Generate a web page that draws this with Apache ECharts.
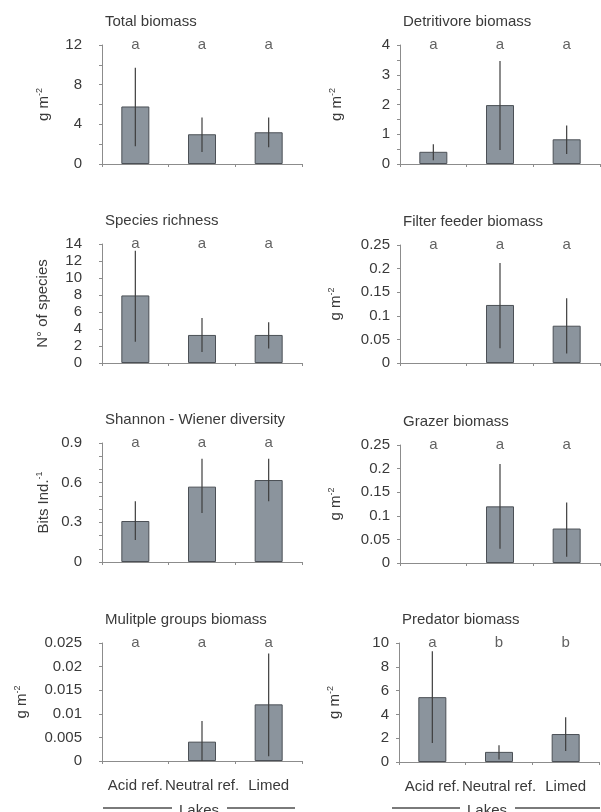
<!DOCTYPE html>
<html>
<head>
<meta charset="utf-8">
<script src="https://cdn.jsdelivr.net/npm/echarts@6/dist/echarts.min.js"></script>
<style>
  html, body { margin: 0; padding: 0; background: #fff; }
  #chart { width: 601px; height: 812px; }
</style>
</head>
<body>
<div id="chart"></div>
<script>
// categories
const lakes = ['Acid ref.', 'Neutral ref.', 'Limed'];

// values: mean, lower / upper end of error bar
const totalMean = [5.8, 3.0, 3.2];
const totalLow = [1.8, 1.2, 1.7];
const totalHigh = [9.7, 4.7, 4.7];

const detritMean = [0.41, 1.98, 0.83];
const detritLow = [0.13, 0.47, 0.34];
const detritHigh = [0.66, 3.46, 1.29];

const richMean = [7.95, 3.3, 3.3];
const richLow = [2.5, 1.3, 1.7];
const richHigh = [13.2, 5.3, 4.8];

const filterMean = [0, 0.123, 0.079];
const filterLow = [0, 0.031, 0.02];
const filterHigh = [0, 0.212, 0.137];

const shannonMean = [0.31, 0.57, 0.62];
const shannonLow = [0.166, 0.37, 0.46];
const shannonHigh = [0.46, 0.78, 0.78];

const grazerMean = [0, 0.12, 0.073];
const grazerLow = [0, 0.03, 0.013];
const grazerHigh = [0, 0.21, 0.128];

const multiMean = [0, 0.0041, 0.012];
const multiLow = [0, 0, 0.001];
const multiHigh = [0, 0.0085, 0.0228];

const predMean = [5.45, 0.85, 2.35];
const predLow = [1.6, 0.2, 0.93];
const predHigh = [9.3, 1.4, 3.76];

// significance letters
const lettersAll = ['a', 'a', 'a'];
const lettersPred = ['a', 'b', 'b'];

const FONT = "'Liberation Sans', Arial, sans-serif";
const FS = 15;
const TXT = '#3a3a3a';
const AXIS = '#8c8c8c';

const panels = [
  { title: 'Total biomass', name: 'g m{sup|-2}', gap: 50, mean: totalMean, low: totalLow, high: totalHigh, letters: lettersAll, max: 12, interval: 4, minor: 2, left: 102, top: 45, bottom: 164, lblMargin: 20 },
  { title: 'Detritivore biomass', name: 'g m{sup|-2}', gap: 55, mean: detritMean, low: detritLow, high: detritHigh, letters: lettersAll, max: 4, interval: 1, minor: 2, left: 400, top: 45, bottom: 164, lblMargin: 10 },
  { title: 'Species richness', name: 'N° of species', gap: 52, mean: richMean, low: richLow, high: richHigh, letters: lettersAll, max: 14, interval: 2, minor: 0, left: 102, top: 244, bottom: 363, lblMargin: 20 },
  { title: 'Filter feeder biomass', name: 'g m{sup|-2}', gap: 56, mean: filterMean, low: filterLow, high: filterHigh, letters: lettersAll, max: 0.25, interval: 0.05, minor: 0, left: 400, top: 245, bottom: 363, lblMargin: 10 },
  { title: 'Shannon - Wiener diversity', name: 'Bits Ind.{sup|-1}', gap: 50, mean: shannonMean, low: shannonLow, high: shannonHigh, letters: lettersAll, max: 0.9, interval: 0.3, minor: 3, left: 102, top: 443, bottom: 562, lblMargin: 20 },
  { title: 'Grazer biomass', name: 'g m{sup|-2}', gap: 56, mean: grazerMean, low: grazerLow, high: grazerHigh, letters: lettersAll, max: 0.25, interval: 0.05, minor: 0, left: 400, top: 445, bottom: 563, lblMargin: 10 },
  { title: 'Mulitple groups biomass', name: 'g m{sup|-2}', gap: 72, mean: multiMean, low: multiLow, high: multiHigh, letters: lettersAll, max: 0.025, interval: 0.005, minor: 0, left: 102, top: 643, bottom: 761, lblMargin: 20, xLabels: true },
  { title: 'Predator biomass', name: 'g m{sup|-2}', gap: 56, mean: predMean, low: predLow, high: predHigh, letters: lettersPred, max: 10, interval: 2, minor: 0, left: 399, top: 643, bottom: 762, lblMargin: 10, xLabels: true }
];

const grid = [], xAxis = [], yAxis = [], series = [], title = [];

panels.forEach((p, i) => {
  grid.push({ left: p.left, top: p.top, width: 200, height: p.bottom - p.top, outerBoundsMode: 'none' });
  title.push({
    text: p.title, left: p.left - 2, top: p.top - 36,
    textStyle: { fontFamily: FONT, fontSize: FS, fontWeight: 'normal', color: TXT }
  });
  xAxis.push({
    type: 'category', gridIndex: i, data: lakes,
    axisLine: { lineStyle: { color: AXIS, width: 1 } },
    axisTick: { show: true, length: 3, lineStyle: { color: AXIS } },
    axisLabel: { show: !!p.xLabels, interval: 0, margin: 17, fontFamily: FONT, fontSize: FS, color: TXT }
  });
  yAxis.push({
    type: 'value', gridIndex: i, min: 0, max: p.max, interval: p.interval,
    name: p.name, nameLocation: 'middle', nameGap: p.gap,
    nameTextStyle: {
      fontFamily: FONT, fontSize: FS, color: TXT,
      rich: { sup: { fontFamily: FONT, fontSize: 9, color: TXT, verticalAlign: 'top', padding: [0, 0, 8, 0] } }
    },
    axisLine: { show: true, lineStyle: { color: AXIS, width: 1 } },
    axisTick: { show: true, length: 3, lineStyle: { color: AXIS } },
    minorTick: { show: p.minor > 0, splitNumber: p.minor || 5, length: 3, lineStyle: { color: AXIS } },
    splitLine: { show: false },
    axisLabel: {
      margin: p.lblMargin, fontFamily: FONT, fontSize: FS, color: TXT,
      showMinLabel: true, showMaxLabel: true, hideOverlap: false
    }
  });
  series.push({
    type: 'bar', xAxisIndex: i, yAxisIndex: i,
    // a zero mean draws no bar (no border line on the axis)
    data: p.mean.map(v => (v === 0 ? '-' : v)),
    barWidth: 28,
    itemStyle: { color: '#8b949d', borderColor: '#4b5056', borderWidth: 1 },
    silent: true
  });
  series.push({
    type: 'custom', xAxisIndex: i, yAxisIndex: i,
    data: p.mean.map((m, k) => [k, p.low[k], p.high[k]]),
    encode: { x: 0, y: [1, 2] },
    renderItem: (params, api) => {
      const lo = api.coord([api.value(0), api.value(1)]);
      const hi = api.coord([api.value(0), api.value(2)]);
      if (api.value(2) <= api.value(1)) return;
      return {
        type: 'line',
        shape: { x1: lo[0], y1: lo[1], x2: hi[0], y2: hi[1] },
        style: { stroke: '#3e3e3e', lineWidth: 1.2 }
      };
    },
    z: 5, silent: true
  });
  series.push({
    type: 'scatter', xAxisIndex: i, yAxisIndex: i,
    data: p.letters.map((l, k) => [k, p.max]),
    symbolSize: 1, itemStyle: { color: 'rgba(0,0,0,0)' }, clip: false,
    label: {
      show: true, position: 'inside', formatter: (d) => p.letters[d.dataIndex],
      fontFamily: FONT, fontSize: FS, color: TXT
    },
    silent: true
  });
});

// "Lakes" brackets under the two bottom panels
const bracket = (x1, x2, y) => ({ type: 'line', shape: { x1: x1, y1: y, x2: x2, y2: y }, style: { stroke: '#7a7a7a', lineWidth: 2 } });
const lakesText = (x, y) => ({ type: 'text', x: x, y: y, style: { text: 'Lakes', font: FS + 'px ' + FONT, fill: TXT, textAlign: 'center', textVerticalAlign: 'middle' } });

const chart = echarts.init(document.getElementById('chart'));
chart.setOption({
  animation: false,
  title: title,
  grid: grid,
  xAxis: xAxis,
  yAxis: yAxis,
  series: series,
  graphic: [
    bracket(103, 172, 808), bracket(227, 295, 808), lakesText(199, 811),
    bracket(392, 460, 808), bracket(515, 600, 808), lakesText(487, 811)
  ]
});
</script>
</body>
</html>
